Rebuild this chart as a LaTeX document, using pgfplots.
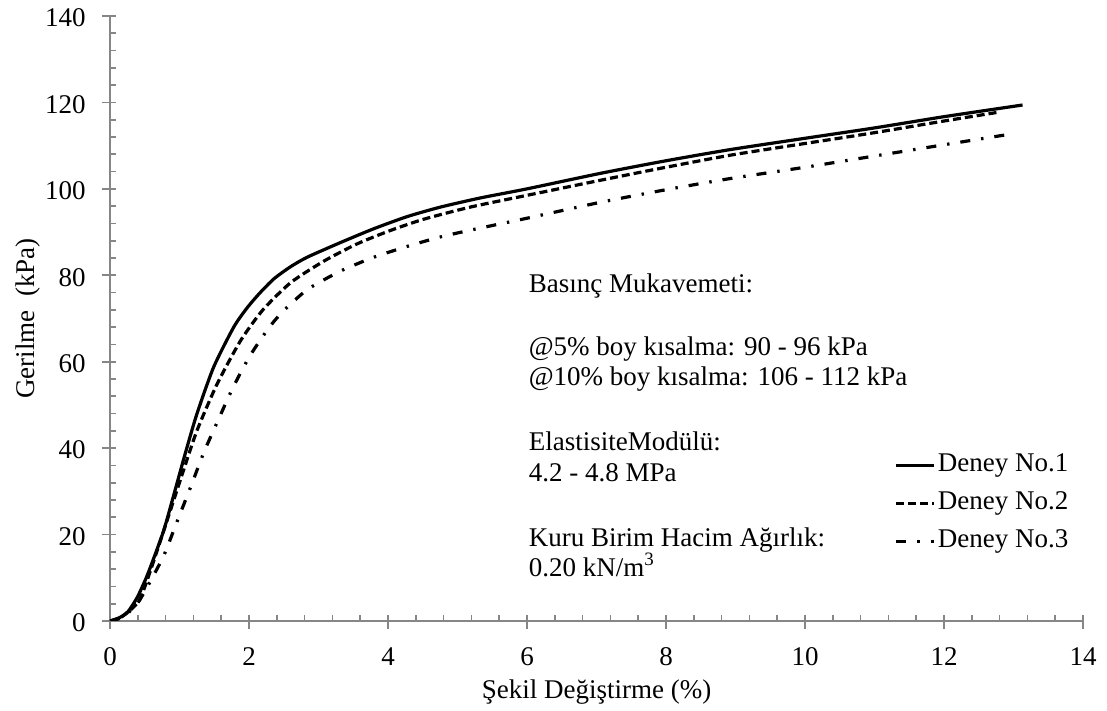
\documentclass[border=0pt]{standalone}
\usepackage{fontspec}
\setmainfont{Liberation Serif}
\usepackage{pgfplots}
\pgfplotsset{compat=1.18}

\definecolor{axisgray}{HTML}{868686}

% stress-strain curves of the three tests
\pgfplotstableread{
x y
0 0
0.14 0.8
0.26 2.2
0.39 5.4
0.50 9.2
0.58 12.4
0.77 20.8
0.92 29.3
1.08 38.6
1.25 47.9
1.49 58.7
1.78 68.0
1.97 72.4
2.15 75.8
2.36 79.2
2.60 82.0
2.84 84.2
3.32 87.6
3.80 90.8
4.28 93.6
4.76 95.8
5.33 97.9
6.00 100.0
7.06 103.6
8.00 106.5
8.93 109.1
10.00 111.7
11.00 114.1
12.00 116.7
13.13 119.4
}\deneyA

\pgfplotstableread{
x y
0 0
0.14 0.7
0.27 2.2
0.43 5.0
0.60 12.5
0.82 23.2
1.04 34.0
1.25 44.0
1.54 54.8
1.88 64.9
2.20 72.0
2.60 78.3
3.08 83.3
3.56 87.3
4.04 90.4
4.52 93.0
5.19 95.8
6.00 98.5
7.06 102.0
8.00 105.0
8.93 107.8
10.00 110.5
11.00 113.0
12.00 115.7
12.81 117.8
}\deneyB

\pgfplotstableread{
x y
0 0
0.14 0.6
0.27 2.0
0.40 4.2
0.53 7.7
0.77 15.0
0.96 22.8
1.16 31.0
1.35 39.0
1.54 45.9
1.76 53.7
2.00 61.0
2.27 67.5
2.48 71.5
2.84 76.7
3.32 81.0
3.80 84.2
4.28 86.7
4.76 88.9
5.26 90.7
6.00 93.2
7.06 96.9
8.00 99.8
8.93 102.4
10.00 105.0
11.00 107.6
12.00 110.2
12.93 112.6
}\deneyC

\begin{document}
\fontsize{13.5}{16}\selectfont
\begin{tikzpicture}
\useasboundingbox (0,0) rectangle (553.5pt,355.5pt);
\begin{axis}[
  at={(55pt,45pt)}, anchor=south west,
  scale only axis, width=486.5pt, height=302.5pt,
  xmin=0, xmax=14, ymin=0, ymax=140,
  axis lines=left,
  axis line style={-, draw=axisgray, line width=0.8pt},
  xtick={0,2,...,14}, ytick={0,20,...,140},
  minor x tick num=4, minor y tick num=4,
  tick align=inside,
  major tick length=7pt, minor tick length=3pt,
  every tick/.style={draw=axisgray, line width=0.8pt},
  major x tick style={yshift=-4pt},
  major y tick style={xshift=-4pt},
  /pgf/number format/assume math mode=true,
  xticklabel style={inner sep=0pt, anchor=north, yshift=-13pt},
  yticklabel style={inner sep=0pt, anchor=east, xshift=-12pt, yshift=-1pt},
  xlabel={Şekil Değiştirme (\%)},
  ylabel={Gerilme\hspace{0.25em} (kPa)},
  xlabel style={at={(axis description cs:0.5,-0.1174)}, anchor=center},
  ylabel style={at={(axis description cs:-0.0838,0.5)}, anchor=center},
  legend style={at={(rel axis cs:0.806,0.277)}, anchor=north west,
    draw=none, fill=none, inner sep=0pt, row sep=7pt, column sep=1pt,
    nodes={inner sep=0pt, text height=9pt, text depth=3pt}},
  legend cell align=left,
  legend image code/.code={\draw[#1] (0pt,0pt) -- (19pt,0pt);},
]
\addplot[black, line width=1.6pt, smooth, tension=0.4] table {\deneyA};
\addlegendentry{Deney No.1}
\addplot[black, line width=1.6pt, smooth, tension=0.4, dash pattern=on 4pt off 2pt] table {\deneyB};
\addlegendentry{Deney No.2}
\addplot[black, line width=1.6pt, smooth, tension=0.4, dash pattern=on 5pt off 5.5pt on 1.2pt off 5.5pt] table {\deneyC};
\addlegendentry{Deney No.3}

\node[anchor=base west, inner sep=0pt] at (axis cs:6.02,75.9) {Basınç Mukavemeti:};
\node[anchor=base west, inner sep=0pt] at (axis cs:6.02,61.5) {@5\% boy kısalma: 90 - 96 kPa};
\node[anchor=base west, inner sep=0pt] at (axis cs:6.02,54.5) {@10\% boy kısalma: 106 - 112 kPa};
\node[anchor=base west, inner sep=0pt] at (axis cs:6.02,39.5) {ElastisiteModülü:};
\node[anchor=base west, inner sep=0pt] at (axis cs:6.02,32.3) {4.2 - 4.8 MPa};
\node[anchor=base west, inner sep=0pt] at (axis cs:6.02,17.3) {Kuru Birim Hacim Ağırlık:};
\node[anchor=base west, inner sep=0pt] at (axis cs:6.02,10.4) {0.20 kN/m\textsuperscript{3}};
\end{axis}
\end{tikzpicture}
\end{document}
